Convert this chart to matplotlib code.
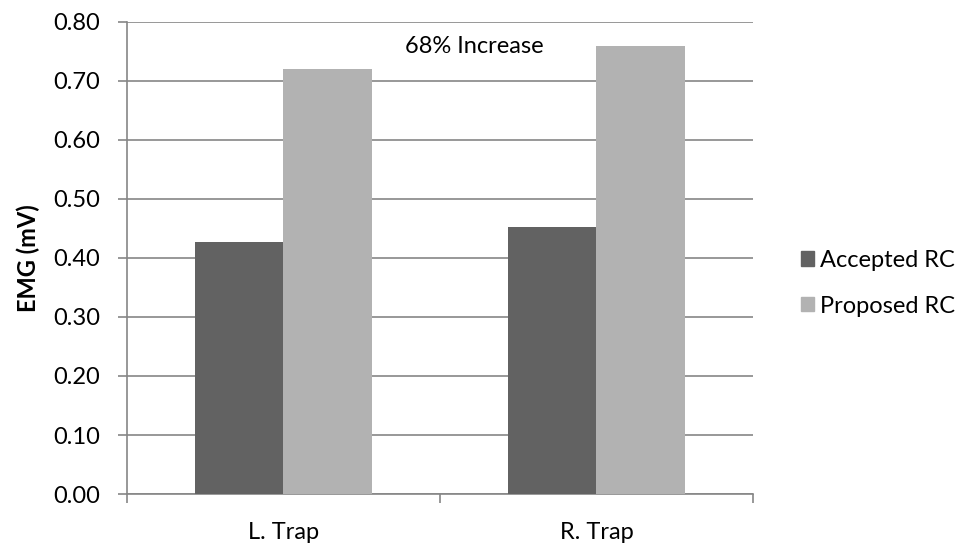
import numpy as np
import matplotlib
matplotlib.use("Agg")
import matplotlib.pyplot as plt
from matplotlib.patches import Patch

categories = ["L. Trap", "R. Trap"]
accepted = [0.427, 0.453]
proposed = [0.720, 0.760]
series_names = ["Accepted RC", "Proposed RC"]
yticks = [0.0, 0.1, 0.2, 0.3, 0.4, 0.5, 0.6, 0.7, 0.8]

plt.rcParams['font.family'] = ['Lato', 'DejaVu Sans']
grey = '#868686'
c_dark = '#626262'
c_light = '#b2b2b2'
fs = 17

fig = plt.figure(figsize=(9.69, 5.48), dpi=100)
ax = fig.add_axes([0.131, 0.0985, 0.646, 0.8615])

x = np.arange(len(categories))
w = 0.284
ax.bar(x - w / 2, accepted, w, color=c_dark, zorder=3)
ax.bar(x + w / 2, proposed, w, color=c_light, zorder=3)

ax.set_xlim(-0.5, len(categories) - 0.5)
ax.set_ylim(0, 0.8)
ax.set_yticks(yticks)
ax.set_yticklabels(["%.2f" % v for v in yticks], fontsize=fs)
ax.yaxis.grid(True, color=grey, linewidth=1.2, zorder=0)

# category labels between boundary ticks
ax.set_xticks(np.arange(len(categories) + 1) - 0.5)
ax.set_xticklabels([])
ax.set_xticks(x, minor=True)
ax.set_xticklabels(categories, minor=True, fontsize=fs)
ax.tick_params(axis='x', which='minor', length=0, pad=20)
ax.tick_params(axis='x', which='major', length=6.5, color=grey, width=1.2)
ax.tick_params(axis='y', length=6.5, color=grey, width=1.2, pad=13)

for s in ['top', 'right']:
    ax.spines[s].set_visible(False)
for s in ['left', 'bottom']:
    ax.spines[s].set_color(grey)
    ax.spines[s].set_linewidth(1.2)

ax.set_ylabel("EMG (mV)", fontsize=fs, fontweight='bold', labelpad=9)

ax.text(0.388, 0.758, "68% Increase", fontsize=fs, va='center', ha='left', zorder=4)

handles = [Patch(color=c_dark), Patch(color=c_light)]
fig.legend(handles, series_names, loc='center left', bbox_to_anchor=(0.805, 0.483),
           frameon=False, fontsize=fs, handlelength=0.55, handleheight=0.55,
           handletextpad=0.25, labelspacing=1.05)

fig.savefig("out.png", dpi=100)
